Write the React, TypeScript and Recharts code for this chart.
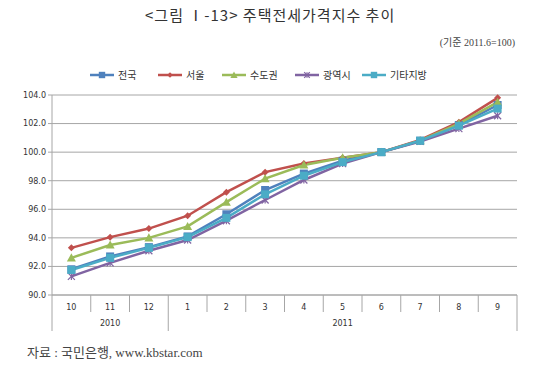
import * as React from "react";
import { LineChart, Line, XAxis, YAxis, CartesianGrid } from "recharts";

const months = ["10", "11", "12", "1", "2", "3", "4", "5", "6", "7", "8", "9"];
const years = [
  { label: "2010", count: 3 },
  { label: "2011", count: 9 },
];
const yTicks = [90, 92, 94, 96, 98, 100, 102, 104];

const nationwide = [91.8, 92.7, 93.35, 94.1, 95.65, 97.35, 98.5, 99.4, 100, 100.8, 101.9, 103.3];
const seoul = [93.3, 94.05, 94.65, 95.55, 97.2, 98.6, 99.2, 99.6, 100, 100.85, 102.1, 103.8];
const capital = [92.6, 93.5, 94.0, 94.8, 96.5, 98.15, 99.1, 99.6, 100, 100.8, 102.0, 103.5];
const metro = [91.3, 92.25, 93.1, 93.85, 95.2, 96.65, 98.05, 99.2, 100, 100.75, 101.65, 102.55];
const others = [91.75, 92.6, 93.3, 94.05, 95.4, 97.05, 98.35, 99.3, 100, 100.8, 101.85, 103.05];

const series = [
  { key: "nationwide", name: "전국", color: "#4F81BD", shape: "square", values: nationwide },
  { key: "seoul", name: "서울", color: "#C0504D", shape: "diamond", values: seoul },
  { key: "capital", name: "수도권", color: "#9BBB59", shape: "triangle", values: capital },
  { key: "metro", name: "광역시", color: "#8064A2", shape: "cross", values: metro },
  { key: "others", name: "기타지방", color: "#4BACC6", shape: "square", values: others },
];

const data = months.map((m, i) => {
  const row: any = { month: m };
  series.forEach((s) => (row[s.key] = s.values[i]));
  return row;
});

const FONT = "'DejaVu Sans', 'Noto Sans CJK KR', sans-serif";
const GRID = "#a6a6a6";

function Marker({ cx, cy, shape, color, size = 1 }: any) {
  if (cx == null || cy == null) return null;
  if (shape === "square") {
    const s = 4 * size;
    return <rect x={cx - s} y={cy - s} width={s * 2} height={s * 2} fill={color} />;
  }
  if (shape === "diamond") {
    const s = 3.5 * size;
    return <polygon points={`${cx},${cy - s} ${cx + s},${cy} ${cx},${cy + s} ${cx - s},${cy}`} fill={color} />;
  }
  if (shape === "triangle") {
    const s = 4.5 * size;
    return <polygon points={`${cx},${cy - s} ${cx + s},${cy + s * 0.8} ${cx - s},${cy + s * 0.8}`} fill={color} />;
  }
  const s = 3.5 * size;
  return (
    <g stroke={color} strokeWidth={1.2}>
      <line x1={cx - s} y1={cy - s} x2={cx + s} y2={cy + s} />
      <line x1={cx - s} y1={cy + s} x2={cx + s} y2={cy - s} />
      <line x1={cx} y1={cy - s} x2={cx} y2={cy + s} />
    </g>
  );
}

function MonthTick(props: any) {
  const { x, y, payload, index } = props;
  const half = payload.offset || 19.4;
  let start = 0;
  let yearLabel = null;
  let groupStart = false;
  years.forEach((g) => {
    if (index === start) groupStart = true;
    if (index === start + Math.floor((g.count - 1) / 2)) {
      const mid = start + (g.count - 1) / 2;
      yearLabel = { label: g.label, dx: (mid - index) * half * 2 };
    }
    start += g.count;
  });
  const isLast = index === months.length - 1;
  return (
    <g>
      <line x1={x - half} y1={y} x2={x - half} y2={y + (groupStart ? 36 : 17)} stroke={GRID} />
      {isLast && <line x1={x + half} y1={y} x2={x + half} y2={y + 36} stroke={GRID} />}
      <text x={x} y={y + 15} textAnchor="middle" fontSize={8} fill="#333" fontFamily={FONT}>
        {payload.value}
      </text>
      {yearLabel && (
        <text x={x + (yearLabel as any).dx} y={y + 31} textAnchor="middle" fontSize={8} fill="#333" fontFamily={FONT}>
          {(yearLabel as any).label}
        </text>
      )}
    </g>
  );
}

function LegendRow() {
  const xs = [90, 158, 222, 295, 362];
  return (
    <svg width={550} height={20} style={{ position: "absolute", left: 0, top: 65 }}>
      {series.map((s, i) => (
        <g key={s.key}>
          <line x1={xs[i]} y1={10} x2={xs[i] + 24} y2={10} stroke={s.color} strokeWidth={2.5} />
          <Marker cx={xs[i] + 12} cy={10} shape={s.shape} color={s.color} size={0.8} />
          <text x={xs[i] + 28} y={14} fontSize={10} fill="#333" fontFamily={FONT}>
            {s.name}
          </text>
        </g>
      ))}
    </svg>
  );
}

export default function App() {
  return (
    <div style={{ position: "absolute", left: 0, top: 0, width: 550, height: 367, background: "#fff" }}>
      <div
        style={{
          position: "absolute",
          top: 4,
          left: 145,
          whiteSpace: "nowrap",
          fontSize: 15,
          letterSpacing: 1,
          color: "#333",
          fontFamily: "'Noto Sans CJK KR', sans-serif",
        }}
      >
        &lt;그림 Ⅰ-13&gt; 주택전세가격지수 추이
      </div>
      <div
        style={{
          position: "absolute",
          top: 34,
          right: 35,
          fontSize: 10,
          color: "#444",
          fontFamily: "'Liberation Serif', 'Noto Sans CJK KR', serif",
        }}
      >
        (기준 2011.6=100)
      </div>
      <LegendRow />
      <LineChart
        width={550}
        height={367}
        data={data}
        margin={{ top: 95, right: 33, left: 0, bottom: 32 }}
      >
        <CartesianGrid vertical={false} stroke={GRID} />
        <XAxis
          dataKey="month"
          scale="band"
          height={40}
          interval={0}
          tickSize={0}
          tickMargin={0}
          axisLine={{ stroke: GRID }}
          tickLine={false}
          tick={<MonthTick />}
        />
        <YAxis
          width={52}
          domain={[90, 104]}
          ticks={yTicks}
          tickFormatter={(v: number) => v.toFixed(1)}
          tick={{ fontSize: 8, fill: "#333", fontFamily: FONT }}
          tickSize={4}
          tickLine={{ stroke: GRID }}
          axisLine={{ stroke: GRID }}
        />
        {series.map((s) => (
          <Line
            key={s.key}
            dataKey={s.key}
            name={s.name}
            stroke={s.color}
            strokeWidth={2.5}
            isAnimationActive={false}
            dot={(p: any) => <Marker key={`${s.key}-${p.index}`} cx={p.cx} cy={p.cy} shape={s.shape} color={s.color} />}
            activeDot={false}
          />
        ))}
      </LineChart>
      <div
        style={{
          position: "absolute",
          left: 27,
          top: 342,
          fontSize: 13,
          color: "#444",
          fontFamily: "'Liberation Serif', 'Noto Sans CJK KR', serif",
        }}
      >
        자료 : 국민은행, www.kbstar.com
      </div>
    </div>
  );
}
